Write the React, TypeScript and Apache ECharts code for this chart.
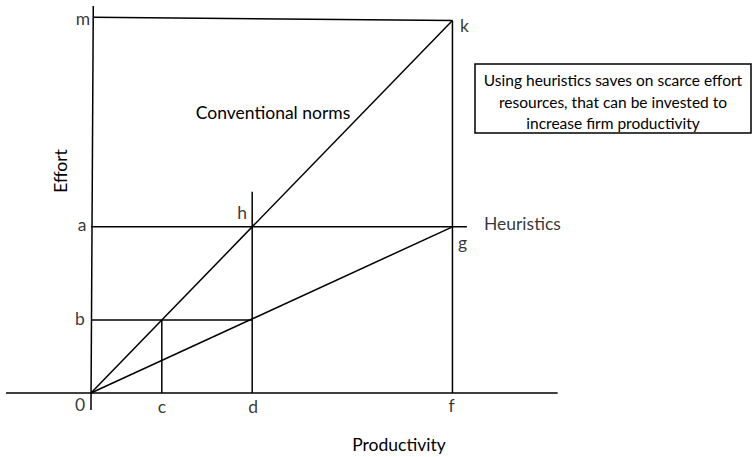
import React, { useEffect, useRef } from "react";
import * as echarts from "echarts";

// Point values (data units: productivity on x, effort on y)
const X_C = 1.96;
const X_D = 4.46;
const X_F = 10;
const Y_B = 1.96;
const Y_A = 4.46;
const Y_K = 10;
const Y_M = 10.09;

// Extents of drawn lines
const X_AXIS_RANGE = [-2.35, 12.91];
const Y_AXIS_RANGE = [-0.46, 10.39];
const Y_AXIS_TOP_X = 0.064;
const M_LINE_START_X = 0.06;
const A_LINE_END_X = 10.4;
const D_LINE_TOP_Y = 5.4;

// Segments built from the values
const segments: number[][][] = [
  [[X_AXIS_RANGE[0], 0], [X_AXIS_RANGE[1], 0]],
  [[0, Y_AXIS_RANGE[0]], [Y_AXIS_TOP_X, Y_AXIS_RANGE[1]]],
  [[M_LINE_START_X, Y_M], [X_F, Y_K]],
  [[0, 0], [X_F, Y_K]],
  [[0, 0], [X_F, Y_A]],
  [[0, Y_A], [A_LINE_END_X, Y_A]],
  [[0, Y_B], [X_D, Y_B]],
  [[X_C, 0], [X_C, Y_B]],
  [[X_D, 0], [X_D, D_LINE_TOP_Y]],
  [[X_F, 0], [X_F, Y_K]],
];

// Point labels
const pointNames = ["m", "k", "a", "b", "0", "c", "d", "f", "h", "g", "Heuristics"];
const pointX = [0, X_F, 0, 0, 0, X_C, X_D, X_F, X_D, X_F, A_LINE_END_X];
const pointY = [Y_M, Y_K, Y_A, Y_B, 0, 0, 0, 0, Y_A, Y_A, Y_A];

// label styles (pixel offsets)
const labelOffsets: Record<string, number[]> = {
  m: [-8, 1],
  k: [12, 5],
  a: [-9, -2],
  b: [-11, -1],
  "0": [-11, 12],
  c: [0, 14],
  d: [1, 14],
  f: [-1, 13],
  h: [-10, -14],
  g: [10, 16],
  Heuristics: [17, -3],
};

const boxLines = [
  "Using heuristics saves on scarce effort",
  "resources, that can be invested to",
  "increase firm productivity",
];

const FONT = "Lato, 'Open Sans', sans-serif";
const LABEL_SIZE = 17.5;
const BOX_SIZE = 15.5;

export default function App() {
  const ref = useRef<HTMLDivElement>(null);
  useEffect(() => {
    if (!ref.current) return;
    const chart = echarts.init(ref.current, null, { renderer: "svg" });
    const lineSeries = segments.map((seg) => ({
      type: "line",
      data: seg,
      symbol: "none",
      silent: true,
      lineStyle: { color: "#000", width: 1.5 },
    }));
    const labelData = pointNames.map((n, i) => ({
      name: n,
      value: [pointX[i], pointY[i]],
      label: {
        show: true,
        formatter: "{b}",
        position: "inside",
        align: n === "Heuristics" ? "left" : "center",
        verticalAlign: "middle",
        offset: labelOffsets[n],
        color: "#000",
        fontFamily: FONT,
        fontSize: LABEL_SIZE,
      },
    }));
    const txt = (text: string, x: number, y: number, size: number, rotation = 0) => ({
      type: "text",
      x,
      y,
      rotation,
      style: {
        text,
        fontFamily: FONT,
        fontSize: size,
        fill: "#000",
        align: "center",
        verticalAlign: "middle",
      },
    });
    chart.setOption({
      animation: false,
      backgroundColor: "#fff",
      grid: { left: 0.6, right: 191.1, top: 1.9, bottom: 45.4, containLabel: false },
      xAxis: { type: "value", min: -2.5, max: 13, show: false },
      yAxis: { type: "value", min: -0.5, max: 10.5, show: false },
      series: [
        ...lineSeries,
        {
          type: "scatter",
          data: labelData,
          symbolSize: 0,
          silent: true,
          itemStyle: { color: "transparent" },
        },
      ],
      graphic: [
        txt("Conventional norms", 273, 112, LABEL_SIZE),
        txt("Productivity", 399, 444, LABEL_SIZE),
        txt("Effort", 60, 171, LABEL_SIZE, Math.PI / 2),
        {
          type: "rect",
          shape: { x: 475, y: 64, width: 276, height: 69 },
          style: { fill: "#fff", stroke: "#000", lineWidth: 1.5 },
        },
        ...boxLines.map((t, i) => txt(t, 613, 80 + i * 21.5, BOX_SIZE)),
      ],
    });
    return () => chart.dispose();
  }, []);
  return (
    <div
      ref={ref}
      style={{ position: "absolute", left: 0, top: 0, width: 752, height: 457 }}
    />
  );
}
